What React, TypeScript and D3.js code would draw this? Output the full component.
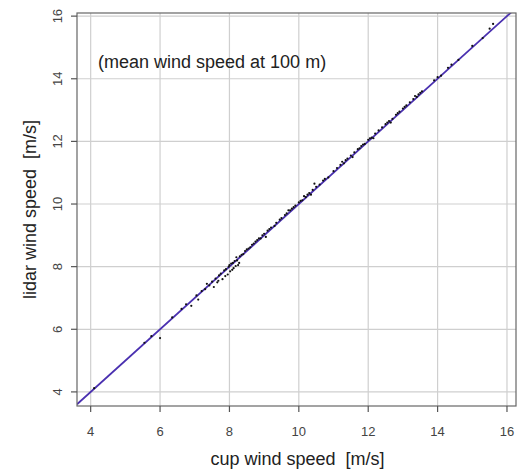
import React from "react";
import * as d3 from "d3";

const cupSpeed = [
  4.1, 5.55, 5.75, 6.0, 6.35, 6.62, 6.75, 6.9, 7.05, 7.1, 7.2, 7.3, 7.35, 7.42, 7.5, 7.55, 7.6, 7.65, 7.7, 7.75,
  7.8, 7.85, 7.9, 7.95, 7.98, 8.0, 8.02, 8.05, 8.1, 8.12, 8.15, 8.2, 8.22, 8.25, 8.3, 8.35, 8.4, 8.45, 8.5, 8.55,
  8.6, 8.65, 8.7, 8.75, 8.8, 8.85, 8.9, 8.95, 9.0, 9.1, 9.2, 9.3, 9.35, 9.45, 9.5, 9.6, 9.65, 9.7, 9.75, 9.8,
  9.85, 9.9, 10.0, 10.05, 10.1, 10.15, 10.2, 10.25, 10.3, 10.4, 10.45, 10.5, 10.6, 10.7, 10.75, 10.85, 11.0, 11.1, 11.2, 11.25,
  11.3, 11.4, 11.5, 11.55, 11.6, 11.7, 11.75, 11.8, 11.85, 11.9, 12.0, 12.05, 12.1, 12.2, 12.3, 12.4, 12.5, 12.55, 12.6, 12.7,
  12.8, 12.85, 12.9, 13.0, 13.05, 13.1, 13.2, 13.3, 13.35, 13.4, 13.5, 13.55, 13.9, 14.0, 14.1, 14.3, 14.4, 14.6, 15.0, 15.3,
  15.5, 15.6, 7.68, 7.88, 8.08, 8.18, 8.28, 9.05, 9.15, 10.35, 11.35, 12.15, 12.65, 13.45,
];
const lidarSpeed = [
  4.12, 5.57, 5.78, 5.72, 6.38, 6.65, 6.8, 6.75, 7.08, 6.95, 7.22, 7.28, 7.45, 7.4, 7.52, 7.35, 7.62, 7.5, 7.72, 7.78,
  7.6, 7.88, 7.92, 7.75, 8.0, 8.05, 7.85, 8.1, 8.12, 7.95, 8.18, 8.3, 8.2, 8.05, 8.33, 8.38, 8.4, 8.5, 8.55, 8.58,
  8.62, 8.7, 8.74, 8.8, 8.85, 8.9, 8.9, 9.0, 9.05, 9.15, 9.25, 9.3, 9.4, 9.5, 9.55, 9.65, 9.7, 9.8, 9.8, 9.85,
  9.9, 9.95, 10.05, 10.1, 10.12, 10.25, 10.22, 10.3, 10.35, 10.45, 10.65, 10.55, 10.62, 10.75, 10.8, 10.85, 11.05, 11.15, 11.25, 11.35,
  11.3, 11.45, 11.55, 11.5, 11.65, 11.75, 11.78, 11.85, 11.9, 11.92, 12.05, 12.1, 12.12, 12.25, 12.35, 12.45, 12.55, 12.6, 12.65, 12.72,
  12.85, 12.9, 12.95, 13.05, 13.1, 13.15, 13.25, 13.35, 13.45, 13.42, 13.55, 13.6, 13.95, 14.05, 14.1, 14.35, 14.45, 14.6, 15.05, 15.3,
  15.6, 15.75, 7.55, 7.7, 7.9, 8.02, 8.12, 8.95, 9.2, 10.3, 11.4, 12.1, 12.6, 13.5,
];
const xTicks = [4, 6, 8, 10, 12, 14, 16];
const yTicks = [4, 6, 8, 10, 12, 14, 16];
const fitIntercept = 0;
const fitSlope = 1;

const W = 519;
const H = 472;
const left = 77;
const right = 516;
const top = 13;
const bottom = 406;

export default function App() {
  const x = d3.scaleLinear().domain([3.606, 16.26]).range([left, right]);
  const y = d3.scaleLinear().domain([3.55, 16.1]).range([bottom, top]);
  const [x0, x1] = x.domain();
  const lineGen = d3
    .line<number>()
    .x((d) => x(d))
    .y((d) => y(fitIntercept + fitSlope * d));
  const font = "'Liberation Sans', Arial, sans-serif";
  return (
    <svg
      width={W}
      height={H}
      style={{ position: "absolute", left: 0, top: 0, background: "#fff" }}
      fontFamily={font}
    >
      <defs>
        <clipPath id="plotclip">
          <rect x={left} y={top} width={right - left + 3} height={bottom - top} />
        </clipPath>
      </defs>
      <rect x={0} y={0} width={W} height={H} fill="#fff" />
      {xTicks.map((t) => (
        <line key={"gx" + t} x1={x(t)} x2={x(t)} y1={top} y2={bottom} stroke="#cfcfcf" strokeWidth={1.2} />
      ))}
      {yTicks.map((t) => (
        <line key={"gy" + t} x1={left} x2={right} y1={y(t)} y2={y(t)} stroke="#cfcfcf" strokeWidth={1.2} />
      ))}
      <text x={98} y={68} fontSize={18} fill="#222">
        (mean wind speed at 100 m)
      </text>
      <g clipPath="url(#plotclip)">
        <path d={lineGen([x0, x1 + 0.1]) || ""} stroke="#4a30b0" strokeWidth={1.8} fill="none" />
        {cupSpeed.map((c, i) => (
          <circle key={"p" + i} cx={x(c)} cy={y(lidarSpeed[i])} r={1.1} fill="#111" />
        ))}
      </g>
      <rect x={left} y={top} width={right - left} height={bottom - top} fill="none" stroke="#666" strokeWidth={1.2} />
      {xTicks.map((t) => (
        <g key={"tx" + t}>
          <line x1={x(t)} x2={x(t)} y1={bottom} y2={bottom + 6} stroke="#555" strokeWidth={1.2} />
          <text x={x(t)} y={436} fontSize={13} fill="#444" textAnchor="middle">
            {t}
          </text>
        </g>
      ))}
      {yTicks.map((t) => (
        <g key={"ty" + t}>
          <line x1={left} x2={left - 6} y1={y(t)} y2={y(t)} stroke="#555" strokeWidth={1.2} />
          <text
            transform={`translate(62,${y(t)}) rotate(-90)`}
            fontSize={13}
            fill="#444"
            textAnchor="middle"
          >
            {t}
          </text>
        </g>
      ))}
      <text x={(left + right) / 2 + 1} y={465} fontSize={18} fill="#222" textAnchor="middle">
        {"cup wind speed \u00a0[m/s]"}
      </text>
      <text
        transform={`translate(36,${(top + bottom) / 2}) rotate(-90)`}
        fontSize={18}
        fill="#222"
        textAnchor="middle"
      >
        {"lidar wind speed \u00a0[m/s]"}
      </text>
    </svg>
  );
}
